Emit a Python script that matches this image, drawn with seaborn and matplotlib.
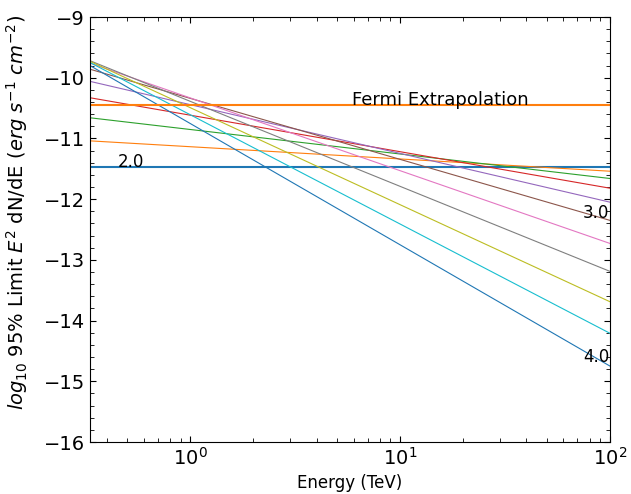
import numpy as np
import pandas as pd
import seaborn as sns
import matplotlib.pyplot as plt
from matplotlib.ticker import MultipleLocator

# photon indices and log10 limit values read at the two plot edges
indices = [2.0, 2.2, 2.4, 2.6, 2.8, 3.0, 3.2, 3.4, 3.6, 3.8, 4.0]
y_left = [-11.47, -11.04, -10.66, -10.33, -10.06, -9.86, -9.76, -9.72, -9.73, -9.75, -9.80]
y_right = [-11.47, -11.54, -11.66, -11.82, -12.05, -12.35, -12.73, -13.19, -13.69, -14.21, -14.75]
e_edges = [1 / 3, 100]
fermi_level = -10.45

rows = []
for idx, yl, yr in zip(indices, y_left, y_right):
    rows.append({'index': idx, 'E': e_edges[0], 'y': yl})
    rows.append({'index': idx, 'E': e_edges[1], 'y': yr})
df = pd.DataFrame(rows)

sns.set_style('ticks', {'xtick.direction': 'in', 'ytick.direction': 'in',
                        'xtick.top': True, 'ytick.right': True,
                        'text.color': 'black', 'axes.labelcolor': 'black',
                        'xtick.color': 'black', 'ytick.color': 'black',
                        'axes.edgecolor': 'black'})
plt.rcParams['font.family'] = ['DejaVu Sans']

fig = plt.figure(figsize=(6.31, 4.94), dpi=100)
ax = fig.add_axes([90 / 631, 1 - 442 / 494, 520 / 631, 425 / 494])

for i, idx in enumerate(indices):
    sub = df[df['index'] == idx]
    lw = 1.5 if idx == 2.0 else 0.8
    sns.lineplot(data=sub, x='E', y='y', color=f'C{i % 10}', lw=lw, ax=ax)

fermi = pd.DataFrame({'E': e_edges, 'y': [fermi_level, fermi_level]})
sns.lineplot(data=fermi, x='E', y='y', color='C1', lw=1.5, ax=ax)

ax.set_xscale('log')
ax.set_xlim(1 / 3, 100)
ax.set_ylim(-16, -9)
ax.yaxis.set_minor_locator(MultipleLocator(0.2))
ax.tick_params(which='both', direction='in', top=True, right=True, labelsize=14)
ax.tick_params(which='major', length=4)
ax.tick_params(which='minor', length=3)

ax.text(0.45, -11.47, '2.0', fontsize=12)
ax.text(74.5, -12.31, '3.0', fontsize=12)
ax.text(74.5, -14.68, '4.0', fontsize=12)
ax.text(5.9, fermi_level, 'Fermi Extrapolation', fontsize=13)

ax.set_xlabel('Energy (TeV)', fontsize=12, labelpad=4)
ax.set_ylabel(r'$log_{10}$ 95% Limit $E^2$ dN/dE ($erg\ s^{-1}\ cm^{-2}$)', fontsize=14)
ax.yaxis.set_label_coords(-0.115, 0.539)

plt.savefig('out.png', dpi=100)
